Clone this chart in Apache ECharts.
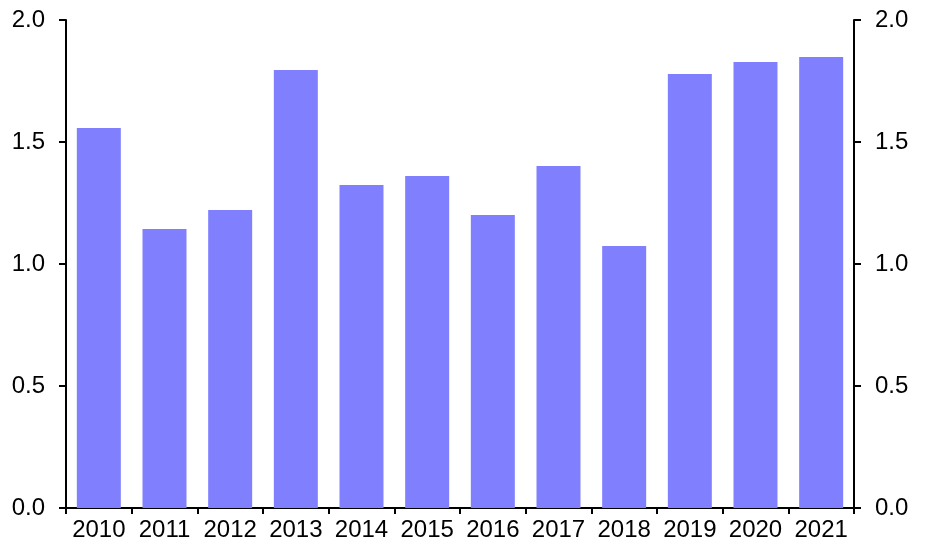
<!DOCTYPE html>
<html><head><meta charset="utf-8">
<script src="https://cdn.jsdelivr.net/npm/echarts@6/dist/echarts.min.js"></script>
<style>html,body{margin:0;padding:0;background:#fff}#c{width:930px;height:553px}</style>
</head><body><div id="c"></div>
<script>
const categories = ['2010','2011','2012','2013','2014','2015','2016','2017','2018','2019','2020','2021'];
const values = [1.557, 1.143, 1.221, 1.795, 1.324, 1.361, 1.201, 1.402, 1.074, 1.779, 1.828, 1.848];
const yTicks = {min: 0, max: 2, interval: 0.5};

const chart = echarts.init(document.getElementById('c'), null, {renderer: 'canvas'});
const font = {fontFamily: '"Liberation Sans", Arial, sans-serif', fontSize: 24, color: '#000'};
const yAxisBase = {
  type: 'value', min: yTicks.min, max: yTicks.max, interval: yTicks.interval,
  splitLine: {show: false},
  axisLine: {show: true, lineStyle: {color: '#000', width: 2}},
  axisTick: {show: true, length: 7, lineStyle: {color: '#000', width: 2}},
  axisLabel: Object.assign({}, font, {formatter: v => v.toFixed(1), margin: 21})
};
chart.setOption({
  animation: false,
  grid: {left: 66, right: 76, top: 20, bottom: 45, containLabel: false},
  xAxis: {
    type: 'category', data: categories,
    axisLine: {lineStyle: {color: '#000', width: 2}},
    axisTick: {show: true, length: 6, alignWithLabel: false, lineStyle: {color: '#000', width: 2}},
    axisLabel: Object.assign({}, font, {margin: 10, interval: 0})
  },
  yAxis: [
    Object.assign({}, yAxisBase, {position: 'left'}),
    Object.assign({}, yAxisBase, {position: 'right'})
  ],
  series: [{
    type: 'bar', data: values, barCategoryGap: '33%',
    itemStyle: {color: '#8080FF'}
  }]
});
</script></body></html>
